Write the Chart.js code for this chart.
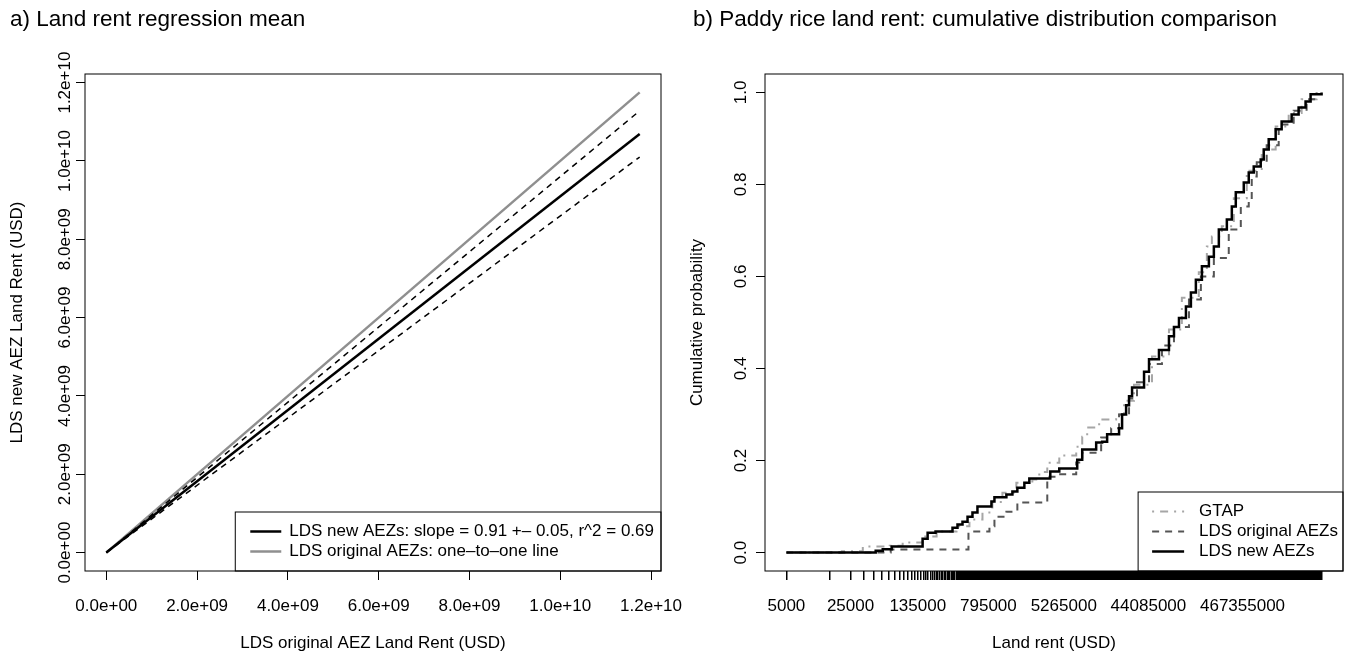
<!DOCTYPE html>
<html>
<head>
<meta charset="utf-8">
<script src="https://cdn.jsdelivr.net/npm/chart.js@4.4.1/dist/chart.umd.min.js"></script>
<style>
  html, body { margin: 0; padding: 0; background: #fff; }
  body { width: 1346px; height: 654px; position: relative; overflow: hidden; }
  canvas { position: absolute; top: 0; }
  #cdfChart { left: 673px; }
  #fitChart { left: 0; }
</style>
</head>
<body>
<canvas id="cdfChart" width="673" height="654"></canvas>
<canvas id="fitChart" width="710" height="654"></canvas>
<script>
// ---- panel a: regression of new-AEZ rent on original-AEZ rent (USD)
const fitX        = [0, 1.175e10];
const fitNew      = [0, 1.069e10];   // slope 0.91
const fitNewHi    = [0, 1.128e10];   // upper band
const fitNewLo    = [0, 1.010e10];   // lower band
const fitOneToOne = [0, 1.175e10];
const fitTicks      = [0, 2e9, 4e9, 6e9, 8e9, 1e10, 1.2e10];
const fitTickLabels = ['0.0e+00', '2.0e+09', '4.0e+09', '6.0e+09', '8.0e+09', '1.0e+10', '1.2e+10'];

// ---- panel b: empirical CDFs of paddy rice land rent (USD)
const gtapRent = [5000, 20100, 34000, 66800, 92500, 152500, 216700, 357000, 494000, 685000,
  879000, 1130000, 1603000, 2393000, 2850000, 3483000, 4706000, 7200000, 8370000, 9480000,
  12800000, 19590000, 23900000, 30700000, 48200000, 73800000, 102000000, 156000000, 191000000, 216700000,
  278000000, 375800000, 520000000, 757000000, 1074000000, 1489000000, 2060000000, 3000000000];
const gtapProb = [0, 0.003, 0.013, 0.015, 0.022, 0.035, 0.046, 0.057, 0.072, 0.087,
  0.11, 0.13, 0.152, 0.159, 0.175, 0.195, 0.211, 0.23, 0.252, 0.272,
  0.289, 0.30, 0.33, 0.365, 0.426, 0.485, 0.554, 0.609, 0.665, 0.687,
  0.709, 0.77, 0.83, 0.876, 0.926, 0.955, 0.985, 1.0];

const origRent = [5000, 68500, 482000, 816000, 925000, 1248000, 1644000, 3483000, 4477000, 7200000,
  8370000, 13460000, 17300000, 21100000, 27100000, 33100000, 44750000, 61900000, 83700000, 121900000,
  164400000, 227700000, 331000000, 447700000, 546600000, 589000000, 668000000, 857000000, 1159000000, 1687000000,
  2334000000, 3000000000];
const origProb = [0, 0.0065, 0.046, 0.057, 0.078, 0.089, 0.109, 0.165, 0.17, 0.196,
  0.217, 0.25, 0.27, 0.30, 0.335, 0.37, 0.41, 0.45, 0.49, 0.55,
  0.6, 0.64, 0.702, 0.752, 0.767, 0.817, 0.848, 0.885, 0.93, 0.96,
  0.985, 1.0];

const newRent = [5000, 47000, 56100, 70200, 152500, 173000, 211000, 323000, 366000, 415000,
  471000, 533000, 604000, 858000, 925000, 1248000, 1452000, 1644000, 1960000, 2220000,
  3757000, 4706000, 7384000, 8370000, 11880000, 13800000, 15640000, 21100000, 22760000, 25180000,
  27100000, 29240000, 39500000, 44750000, 57430000, 73800000, 83700000, 94900000, 113000000, 128000000,
  145000000, 168700000, 201000000, 227700000, 258000000, 315500000, 357500000, 394800000, 482400000, 546600000,
  619400000, 738000000, 796000000, 902000000, 1074000000, 1248000000, 1603000000, 1910000000, 2275000000, 2580000000,
  3400000000];
const newProb = [0, 0.004, 0.007, 0.013, 0.03, 0.043, 0.046, 0.054, 0.061, 0.067,
  0.078, 0.087, 0.10, 0.111, 0.12, 0.126, 0.133, 0.141, 0.152, 0.161,
  0.176, 0.183, 0.202, 0.224, 0.239, 0.241, 0.257, 0.27, 0.30, 0.32,
  0.34, 0.359, 0.393, 0.42, 0.44, 0.47, 0.49, 0.51, 0.535, 0.565,
  0.593, 0.622, 0.643, 0.665, 0.702, 0.724, 0.752, 0.783, 0.804, 0.826,
  0.839, 0.854, 0.876, 0.898, 0.92, 0.937, 0.952, 0.967, 0.98, 0.996,
  1.0];

const probTicks      = [0, 0.2, 0.4, 0.6, 0.8, 1.0];
const probTickLabels = ['0.0', '0.2', '0.4', '0.6', '0.8', '1.0'];
const rentTickStart = 5000, rentTickStep = 10000;
const rentLabelValues = [5000, 25000, 135000, 795000, 5265000, 44085000, 467355000];

const FONT = '"Liberation Sans", Arial, Helvetica, sans-serif';
const FS = 17;
Chart.defaults.font.family = FONT;
Chart.defaults.font.size = FS;
Chart.defaults.color = '#000';

// R-style 4% range extension
function extend(lo, hi) { const d = (hi - lo) * 0.04; return [lo - d, hi + d]; }
const pts = (xs, ys) => xs.map((x, i) => ({ x, y: ys[i] }));

// box around the plotting region
const frame = {
  id: 'frame',
  afterDraw(chart) {
    const { ctx, chartArea: a } = chart;
    ctx.save();
    ctx.strokeStyle = '#000';
    ctx.lineWidth = 1;
    ctx.strokeRect(a.left, a.top, a.right - a.left, a.bottom - a.top);
    ctx.restore();
  }
};

// boxed legend in the bottom-right corner of the plot
const boxLegend = {
  id: 'boxLegend',
  afterDatasetsDraw(chart, args, opts) {
    const { ctx, chartArea: a } = chart;
    const sets = opts.items.map(i => chart.data.datasets[i]);
    ctx.save();
    ctx.font = FS + 'px ' + FONT;
    const textW = Math.max(...sets.map(d => ctx.measureText(d.label).width));
    const w = opts.inset + opts.seg + opts.gap + textW + opts.tail;
    const h = sets.length * 20 + 19;
    const x0 = a.right - w, y0 = a.bottom - h;
    ctx.fillStyle = '#fff';
    ctx.fillRect(x0, y0, w, h);
    ctx.strokeStyle = '#000';
    ctx.lineWidth = 1;
    ctx.strokeRect(x0, y0, w, h);
    sets.forEach((d, i) => {
      const cy = y0 + 19.5 + i * 20;
      ctx.beginPath();
      ctx.setLineDash(d.borderDash || []);
      ctx.strokeStyle = d.borderColor;
      ctx.lineWidth = d.borderWidth;
      ctx.moveTo(x0 + opts.inset, cy);
      ctx.lineTo(x0 + opts.inset + opts.seg, cy);
      ctx.stroke();
      ctx.setLineDash([]);
      ctx.fillStyle = '#000';
      ctx.textBaseline = 'middle';
      ctx.textAlign = 'left';
      ctx.fillText(d.label, x0 + opts.inset + opts.seg + opts.gap, cy);
    });
    ctx.restore();
  }
};

const tickGrid = { drawOnChartArea: false, drawTicks: true, tickLength: 9, color: '#000', lineWidth: 1 };

// ---------------- panel a ----------------
const [fxMin, fxMax] = extend(Math.min(...fitX), Math.max(...fitX));
const [fyMin, fyMax] = extend(0, Math.max(...fitNew, ...fitNewHi, ...fitOneToOne));

new Chart(document.getElementById('fitChart'), {
  type: 'line',
  data: {
    datasets: [
      { label: 'LDS new AEZs: slope = 0.91 +\u2013 0.05, r^2 = 0.69', data: pts(fitX, fitNew),
        borderColor: '#000', borderWidth: 2.5, order: 1 },
      { label: 'upper', data: pts(fitX, fitNewHi), borderColor: '#000', borderWidth: 1.5, borderDash: [6, 5], order: 2 },
      { label: 'lower', data: pts(fitX, fitNewLo), borderColor: '#000', borderWidth: 1.5, borderDash: [6, 5], order: 3 },
      { label: 'LDS original AEZs: one\u2013to\u2013one line', data: pts(fitX, fitOneToOne),
        borderColor: '#8f8f8f', borderWidth: 2.5, order: 4 }
    ]
  },
  options: {
    responsive: false,
    animation: false,
    events: [],
    elements: { point: { radius: 0 }, line: { tension: 0 } },
    layout: { padding: { left: 10, right: 49, top: 0, bottom: 0 } },
    plugins: {
      legend: { display: false },
      tooltip: { enabled: false },
      title: { display: true, text: 'a) Land rent regression mean', align: 'start',
        font: { size: 22.5, weight: 'normal' }, color: '#000', padding: { top: 6.5, bottom: 40.5 } },
      boxLegend: { items: [0, 3], inset: 15, seg: 31, gap: 8, tail: 7 }
    },
    scales: {
      x: {
        type: 'linear', bounds: 'data', min: fxMin, max: fxMax,
        afterBuildTicks: s => { s.ticks = fitTicks.map(v => ({ value: v })); },
        ticks: { autoSkip: false, maxRotation: 0, padding: 15.8, callback: (v, i) => fitTickLabels[i] },
        grid: tickGrid,
        border: { display: false },
        title: { display: true, text: 'LDS original AEZ Land Rent (USD)', padding: { top: 0, bottom: 0.8 } },
        afterFit: s => { s.height = 83; }
      },
      y: {
        type: 'linear', bounds: 'data', min: fyMin, max: fyMax,
        afterBuildTicks: s => { s.ticks = fitTicks.map(v => ({ value: v })); },
        ticks: { autoSkip: false, minRotation: 90, maxRotation: 90, crossAlign: 'center', padding: -20.7,
          callback: (v, i) => fitTickLabels[i] },
        grid: tickGrid,
        border: { display: false },
        title: { display: true, text: 'LDS new AEZ Land Rent (USD)', padding: { top: -3.2, bottom: 0 } },
        afterFit: s => { s.width = 75; }
      }
    }
  },
  plugins: [frame, boxLegend]
});

// ---------------- panel b ----------------
const allRent = [...gtapRent, ...origRent, ...newRent];
const rentMin = Math.min(...allRent), rentMax = Math.max(...allRent);
const [lxMin, lxMax] = extend(Math.log10(rentMin), Math.log10(rentMax));
const [pyMin, pyMax] = extend(0, 1);

// axis ticks at every 10000 USD from 5000; thinned where they merge into a solid band
const rentTicks = [];
let lastLog = -Infinity;
for (let v = rentTickStart; v <= rentMax; v += rentTickStep) {
  const lv = Math.log10(v);
  if (lv - lastLog >= 0.004 || rentLabelValues.includes(v)) { rentTicks.push(v); lastLog = lv; }
}

new Chart(document.getElementById('cdfChart'), {
  type: 'line',
  data: {
    datasets: [
      { label: 'GTAP', data: pts(gtapRent, gtapProb), stepped: 'before',
        borderColor: '#a6a6a6', borderWidth: 2, borderDash: [2, 6, 8, 6], order: 3 },
      { label: 'LDS original AEZs', data: pts(origRent, origProb), stepped: 'before',
        borderColor: '#555', borderWidth: 2, borderDash: [7, 6], order: 2 },
      { label: 'LDS new AEZs', data: pts(newRent, newProb), stepped: 'before',
        borderColor: '#000', borderWidth: 2.5, order: 1 }
    ]
  },
  options: {
    responsive: false,
    animation: false,
    events: [],
    elements: { point: { radius: 0 }, line: { tension: 0 } },
    layout: { padding: { left: 20, right: 3, top: 0, bottom: 0 } },
    plugins: {
      legend: { display: false },
      tooltip: { enabled: false },
      title: { display: true, text: 'b) Paddy rice land rent: cumulative distribution comparison', align: 'start',
        font: { size: 22.5, weight: 'normal' }, color: '#000', padding: { top: 6.5, bottom: 40.5 } },
      boxLegend: { items: [0, 1, 2], inset: 14, seg: 32, gap: 15, tail: 5 }
    },
    scales: {
      x: {
        type: 'logarithmic', bounds: 'data', min: Math.pow(10, lxMin), max: Math.pow(10, lxMax),
        afterBuildTicks: s => { s.ticks = rentTicks.map(v => ({ value: v })); },
        ticks: { autoSkip: false, maxRotation: 0, minRotation: 0, padding: 15.8,
          callback: v => rentLabelValues.includes(v) ? String(v) : '' },
        grid: { ...tickGrid, lineWidth: 1.5 },
        border: { display: false },
        title: { display: true, text: 'Land rent (USD)', padding: { top: 0, bottom: 0.8 } },
        afterFit: s => { s.height = 83; }
      },
      y: {
        type: 'linear', bounds: 'data', min: pyMin, max: pyMax,
        afterBuildTicks: s => { s.ticks = probTicks.map(v => ({ value: v })); },
        ticks: { autoSkip: false, minRotation: 90, maxRotation: 90, crossAlign: 'center', padding: 3.2,
          callback: (v, i) => probTickLabels[i] },
        grid: tickGrid,
        border: { display: false },
        title: { display: true, text: 'Cumulative probability', padding: { top: -6.2, bottom: 0 } },
        afterFit: s => { s.width = 72; }
      }
    }
  },
  plugins: [frame, boxLegend]
});
</script>
</body>
</html>
